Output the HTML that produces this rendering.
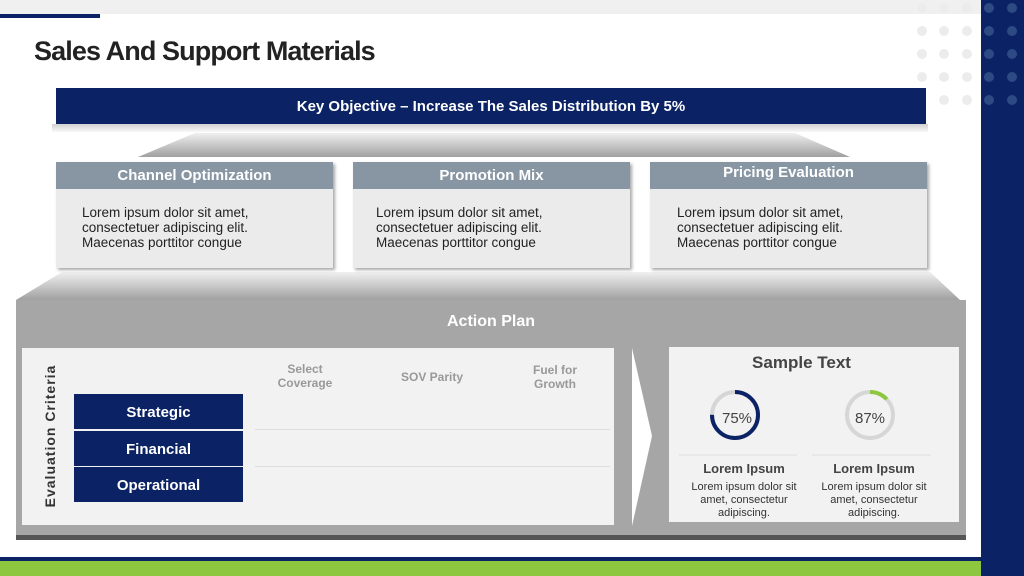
<!DOCTYPE html>
<html><head><meta charset="utf-8"><style>
*{margin:0;padding:0;box-sizing:border-box}
body{width:1024px;height:576px;position:relative;overflow:hidden;background:#fff;font-family:"Liberation Sans",sans-serif}
.a{position:absolute}
.hd{background:#8896a4;color:#fff;font-weight:bold;font-size:15px;text-align:center;line-height:27px}
.card{background:#ebebeb;box-shadow:2px 2px 3px rgba(0,0,0,.35)}
.body{font-size:13.5px;color:#222;line-height:15px}
.nv{background:#0b2265;color:#fff;font-weight:bold;font-size:15px;text-align:center;line-height:35px}
.ch{color:#999;font-weight:bold;font-size:12px;text-align:center;line-height:14px}
.li{font-weight:bold;color:#444;font-size:13px;text-align:center}
.lt{color:#333;font-size:11px;text-align:center;line-height:13px}
</style></head><body>
<div class="a" style="left:0;top:0;width:981px;height:14px;background:#f0f0f0"></div>
<div class="a" style="left:0;top:14px;width:100px;height:4px;background:#0b2265"></div>
<div class="a" style="left:981px;top:0;width:43px;height:576px;background:#0b2265"></div>
<svg class="a" style="left:0;top:0" width="1024" height="576">
<g fill="#ececec">
<circle cx="922" cy="8" r="5"/><circle cx="944" cy="8" r="5"/><circle cx="967" cy="8" r="5"/>
<circle cx="922" cy="31" r="5"/><circle cx="944" cy="31" r="5"/><circle cx="967" cy="31" r="5"/>
<circle cx="922" cy="54" r="5"/><circle cx="944" cy="54" r="5"/><circle cx="967" cy="54" r="5"/>
<circle cx="922" cy="77" r="5"/><circle cx="944" cy="77" r="5"/><circle cx="967" cy="77" r="5"/>
<circle cx="944" cy="100" r="5"/><circle cx="967" cy="100" r="5"/>
</g>
<g fill="#2e4a85">
<circle cx="989" cy="8" r="5"/><circle cx="1012" cy="8" r="5"/>
<circle cx="989" cy="31" r="5"/><circle cx="1012" cy="31" r="5"/>
<circle cx="989" cy="54" r="5"/><circle cx="1012" cy="54" r="5"/>
<circle cx="989" cy="77" r="5"/><circle cx="1012" cy="77" r="5"/>
<circle cx="989" cy="100" r="5"/><circle cx="1012" cy="100" r="5"/>
</g>
<defs><linearGradient id="g" x1="0" y1="0" x2="0" y2="1"><stop offset="0" stop-color="#f0f0f0"/><stop offset="1" stop-color="#a0a0a0"/></linearGradient>
<linearGradient id="s" x1="0" y1="0" x2="0" y2="1"><stop offset="0" stop-color="#d0d0d0"/><stop offset="1" stop-color="#f8f8f8"/></linearGradient></defs>
<rect x="52" y="124" width="876" height="8" fill="url(#s)"/>
<polygon points="195,133 795,133 850,157 138,157" fill="url(#g)"/>
<polygon points="62,272 930,272 960,300 16,300" fill="url(#g)"/>
</svg>
<div class="a" style="left:34px;top:36px;font-size:27px;font-weight:bold;color:#222;letter-spacing:-0.9px">Sales And Support Materials</div>
<div class="a" style="left:56px;top:88px;width:870px;height:36px;background:#0b2265;color:#fff;font-weight:bold;font-size:15px;text-align:center;line-height:38px">Key Objective – Increase The Sales Distribution By 5%</div>

<div class="a card" style="left:56px;top:162px;width:277px;height:106px"><div class="hd">Channel Optimization</div><div class="body" style="padding:16px 0 0 26px">Lorem ipsum dolor sit amet,<br>consectetuer adipiscing elit.<br>Maecenas porttitor congue</div></div>
<div class="a card" style="left:353px;top:162px;width:277px;height:106px"><div class="hd">Promotion Mix</div><div class="body" style="padding:16px 0 0 23px">Lorem ipsum dolor sit amet,<br>consectetuer adipiscing elit.<br>Maecenas porttitor congue</div></div>
<div class="a card" style="left:650px;top:162px;width:277px;height:106px"><div class="hd" style="line-height:22px;height:27px">Pricing Evaluation</div><div class="body" style="padding:16px 0 0 27px">Lorem ipsum dolor sit amet,<br>consectetuer adipiscing elit.<br>Maecenas porttitor congue</div></div>

<div class="a" style="left:16px;top:300px;width:950px;height:240px;background:#a6a6a6;border-bottom:5px solid #555"></div>
<div class="a" style="left:16px;top:313px;width:950px;text-align:center;color:#fff;font-weight:bold;font-size:16px">Action Plan</div>
<div class="a" style="left:22px;top:348px;width:592px;height:177px;background:#f2f2f2"></div>
<svg class="a" style="left:630px;top:348px" width="26" height="178"><polygon points="2,0 22,88 2,178" fill="#fff"/></svg>
<div class="a" style="left:669px;top:347px;width:290px;height:175px;background:#f2f2f2"></div>

<div class="a" style="left:-40px;top:428px;width:180px;text-align:center;transform:rotate(-90deg);font-weight:bold;color:#333;font-size:14px;letter-spacing:1px">Evaluation Criteria</div>
<div class="a ch" style="left:255px;top:362px;width:100px">Select<br>Coverage</div>
<div class="a ch" style="left:382px;top:370px;width:100px">SOV Parity</div>
<div class="a ch" style="left:505px;top:363px;width:100px">Fuel for<br>Growth</div>
<div class="a" style="left:255px;top:429px;width:355px;height:1px;background:#ddd"></div>
<div class="a" style="left:255px;top:466px;width:355px;height:1px;background:#ddd"></div>
<div class="a nv" style="left:74px;top:394px;width:169px;height:35px;line-height:37px">Strategic</div>
<div class="a nv" style="left:74px;top:431px;width:169px;height:35px;line-height:37px">Financial</div>
<div class="a nv" style="left:74px;top:467px;width:169px;height:35px;line-height:37px">Operational</div>

<div class="a" style="left:669px;top:353px;width:265px;text-align:center;font-weight:bold;color:#444;font-size:17px">Sample Text</div>
<svg class="a" style="left:669px;top:380px" width="290" height="80">
<circle cx="66" cy="35" r="23" fill="none" stroke="#d6d6d6" stroke-width="4"/>
<circle cx="66" cy="35" r="23" fill="none" stroke="#0b2265" stroke-width="4" stroke-dasharray="108.4 144.5" transform="rotate(-90 66 35)"/>
<circle cx="201" cy="35" r="23" fill="none" stroke="#d6d6d6" stroke-width="4"/>
<circle cx="201" cy="35" r="23" fill="none" stroke="#8dc63f" stroke-width="4" stroke-dasharray="18.8 144.5" transform="rotate(-90 201 35)"/>
<text x="68" y="43" font-size="15" fill="#444" text-anchor="middle" font-family="Liberation Sans">75%</text>
<text x="201" y="43" font-size="15" fill="#444" text-anchor="middle" font-family="Liberation Sans">87%</text>
<line x1="10" y1="75" x2="128" y2="75" stroke="#ddd"/><line x1="143" y1="75" x2="262" y2="75" stroke="#ddd"/>
</svg>
<div class="a li" style="left:680px;top:461px;width:128px">Lorem Ipsum</div>
<div class="a li" style="left:810px;top:461px;width:128px">Lorem Ipsum</div>
<div class="a lt" style="left:678px;top:481px;width:132px">Lorem ipsum dolor sit<br>amet, consectetur<br>adipiscing.</div>
<div class="a lt" style="left:808px;top:481px;width:132px">Lorem ipsum dolor sit<br>amet, consectetur<br>adipiscing.</div>

<div class="a" style="left:0;top:557px;width:981px;height:4px;background:#0b2265"></div>
<div class="a" style="left:0;top:561px;width:981px;height:15px;background:#8dc63f"></div>
</body></html>
